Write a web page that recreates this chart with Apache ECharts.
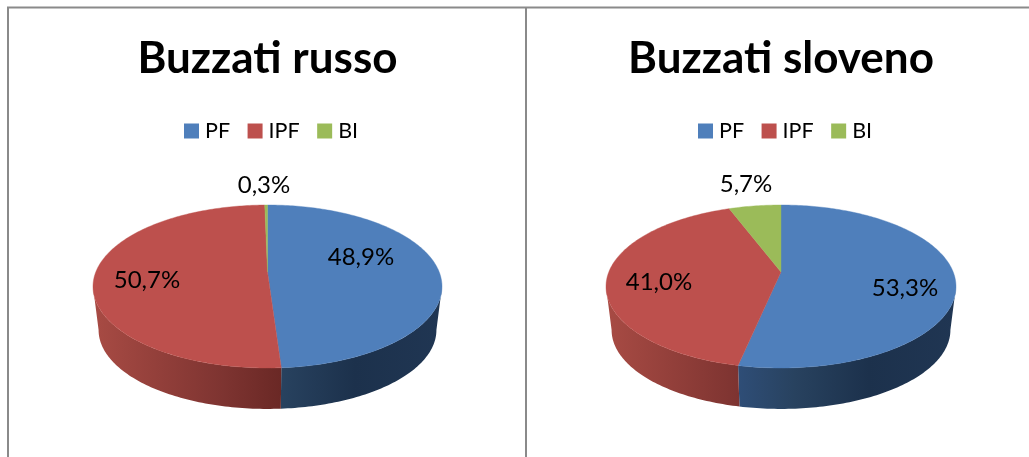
<!DOCTYPE html>
<html>
<head>
<meta charset="utf-8">
<style>html,body{margin:0;padding:0;background:#fff}#c{width:1029px;height:457px}</style>
<script src="https://cdn.jsdelivr.net/npm/echarts@6/dist/echarts.min.js"></script>
</head>
<body>
<div id="c"></div>
<script>
const categories = ['PF', 'IPF', 'BI'];
const chartTitles = ['Buzzati russo', 'Buzzati sloveno'];
const russoValues = [48.9, 50.7, 0.3];
const slovenoValues = [53.3, 41.0, 5.7];

const FONT = 'Lato, "Open Sans", sans-serif';
const topColors = { PF: '#4F7FBB', IPF: '#BD504D', BI: '#9BBB59' };
const wallStops = {
  PF: [[0, '#3a5f92'], [0.37, '#2f4e78'], [0.54, '#28425f'], [0.75, '#1c314c'], [1, '#203653']],
  IPF: [[0, '#a84b44'], [0.37, '#7e3431'], [0.54, '#6a2825'], [1, '#6a2825']],
  BI: [[0, '#7a9446'], [1, '#5c7034']]
};
// pie placement, perspective and text placement (pixels relative to the pie apex)
const pies = [
  { values: russoValues, cx: 267.5, rx: 174.5, labels: [[93.5, -15], [-120.5, 8], [-3.5, -87]], title: chartTitles[0], legendLeft: 184 },
  { values: slovenoValues, cx: 781, rx: 175, labels: [[124, 16], [-122, 10], [-35, -88]], title: chartTitles[1], legendLeft: 698 }
];
const APEX_Y = 272, BACK = 67, FRONT = 96, WALL_SHIFT = 44, WALL_SCALE = 0.968;
const K = (FRONT - BACK) / (FRONT + BACK);
const B = BACK * (1 + K);
// the part of the rim that faces the viewer, as shares of the turn from the top
const FRONT_FROM = Math.acos(-K) / (2 * Math.PI), FRONT_TO = 1 - FRONT_FROM;

function project(pie, share, lower) {
  const a = share * 2 * Math.PI, u = Math.sin(a), v = Math.cos(a);
  const A = pie.rx * Math.sqrt(1 - K * K), s = lower ? WALL_SCALE : 1;
  return [pie.cx + s * A * u / (1 + K * v), APEX_Y + (lower ? WALL_SHIFT : 0) - s * B * v / (1 + K * v)];
}
function arc(pie, from, to, lower) {
  const n = Math.max(2, Math.ceil((to - from) * 360)), pts = [];
  for (let i = 0; i <= n; i++) pts.push(project(pie, from + (to - from) * i / n, lower));
  return pts;
}
function makeSeries(pie) {
  const total = pie.values.reduce((a, b) => a + b, 0);
  let cum = 0;
  return categories.map((name, i) => {
    const start = cum / total, value = pie.values[i];
    cum += value;
    return {
      type: 'custom', name, coordinateSystem: 'none', silent: true,
      itemStyle: { color: topColors[name] },
      data: [[value, start, total]],
      renderItem(params, api) {
        const from = api.value(1), to = from + api.value(0) / api.value(2);
        const top = arc(pie, from, to, false);
        const apex = [pie.cx, APEX_Y];
        const lbl = pie.labels[i];
        const children = [];
        const wFrom = Math.max(from, FRONT_FROM), wTo = Math.min(to, FRONT_TO);
        if (wTo > wFrom) {
          children.push({
            type: 'polygon', z2: 1,
            shape: { points: arc(pie, wFrom, wTo, false).concat(arc(pie, wFrom, wTo, true).reverse()) },
            style: {
              fill: {
                type: 'linear', global: true, x: pie.cx - pie.rx, y: 0, x2: pie.cx + pie.rx, y2: 0,
                colorStops: wallStops[name].map(s => ({ offset: s[0], color: s[1] }))
              }
            }
          });
        }
        children.push({
          type: 'polygon', z2: 2 + i,
          shape: { points: [apex].concat(top) },
          style: { fill: topColors[name], stroke: topColors[name], lineWidth: 0.4 }
        }, {
          type: 'text', z2: 10,
          style: {
            text: api.value(0).toFixed(1).replace('.', ',') + '%',
            x: pie.cx + lbl[0], y: APEX_Y + lbl[1],
            align: 'center', verticalAlign: 'middle',
            fill: '#000', fontFamily: FONT, fontSize: 24
          }
        });
        return { type: 'group', children };
      }
    };
  });
}
const frame = [
  { x: 7, y: 6.5, width: 1022, height: 2 },
  { x: 7, y: 7, width: 2, height: 450 },
  { x: 525, y: 7, width: 2, height: 450 }
];
const chart = echarts.init(document.getElementById('c'), null, { renderer: 'canvas' });
chart.setOption({
  backgroundColor: '#fff',
  animation: false,
  title: pies.map(p => ({
    text: p.title, left: p.cx, top: 37, textAlign: 'center', padding: 0,
    textStyle: { fontFamily: FONT, fontWeight: 'bold', fontSize: 44, color: '#000' }
  })),
  legend: pies.map(p => ({
    data: categories, left: p.legendLeft, top: 120, icon: 'rect', orient: 'horizontal', padding: 0,
    itemWidth: 15, itemHeight: 15, itemGap: 17.5, selectedMode: false,
    textStyle: { fontFamily: FONT, fontSize: 21.5, color: '#000', padding: [0, 0, 0, 1] }
  })),
  graphic: frame.map(r => ({ type: 'rect', shape: r, style: { fill: '#8a8a8a' }, silent: true })),
  series: pies.flatMap(makeSeries)
});
</script>
</body>
</html>
